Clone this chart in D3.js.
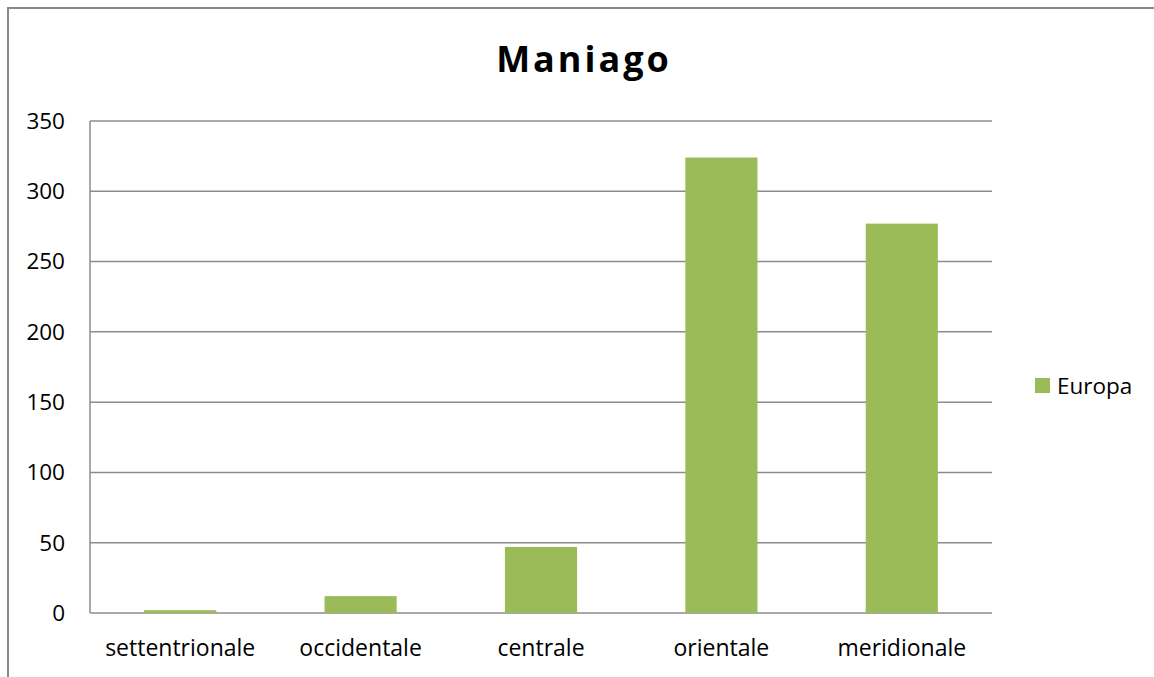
<!DOCTYPE html>
<html>
<head>
<meta charset="utf-8">
<script src="https://cdn.jsdelivr.net/npm/d3@7"></script>
<style>
  body { margin: 0; background: #fff; }
  svg { display: block; font-family: "Open Sans", Lato, sans-serif; }
</style>
</head>
<body>
<div id="viz"></div>
<script>
// Chart data
const categories = ['settentrionale', 'occidentale', 'centrale', 'orientale', 'meridionale']
const europa = [2, 12, 47, 324, 277]
const yTicks = [0, 50, 100, 150, 200, 250, 300, 350]
const seriesName = 'Europa'
const title = 'Maniago'

const W = 1154, H = 677
const plot = { left: 90, right: 992, top: 121, bottom: 613 }

const svg = d3.select('#viz').append('svg')
    .attr('width', W)
    .attr('height', H)

// outer chart frame (only left and top edges are visible in the picture)
svg.append('rect')
    .attr('x', 8).attr('y', 8)
    .attr('width', W + 20).attr('height', H + 20)
    .attr('fill', 'none')
    .attr('stroke', '#888')
    .attr('stroke-width', 2)

var x = d3.scaleBand()
    .domain(categories)
    .range([plot.left, plot.right])
    .paddingInner(0.6)
    .paddingOuter(0.3)

var y = d3.scaleLinear()
    .domain([0, 350])
    .range([plot.bottom, plot.top])

// gridlines
svg.append('g')
    .selectAll('line')
    .data(yTicks)
    .enter()
    .append('line')
    .attr('x1', plot.left)
    .attr('x2', plot.right)
    .attr('y1', d => y(d))
    .attr('y2', d => y(d))
    .attr('stroke', '#8c8c8c')
    .attr('stroke-width', 1.5)

// y axis line
svg.append('line')
    .attr('x1', plot.left).attr('x2', plot.left)
    .attr('y1', plot.top).attr('y2', plot.bottom)
    .attr('stroke', '#8c8c8c')
    .attr('stroke-width', 1.5)

// y tick labels
svg.append('g')
    .selectAll('text')
    .data(yTicks)
    .enter()
    .append('text')
    .attr('x', 65)
    .attr('y', d => y(d))
    .attr('dy', '0.35em')
    .attr('text-anchor', 'end')
    .attr('font-size', 22.5)
    .attr('fill', '#000')
    .text(d => d)

// bars
svg.append('g')
    .selectAll('rect')
    .data(europa)
    .enter()
    .append('rect')
    .attr('x', (d, i) => x(categories[i]))
    .attr('width', x.bandwidth())
    .attr('y', d => y(d))
    .attr('height', d => y(0) - y(d))
    .attr('fill', '#9bbb59')

// x labels
svg.append('g')
    .selectAll('text')
    .data(categories)
    .enter()
    .append('text')
    .attr('x', d => x(d) + x.bandwidth() / 2)
    .attr('y', 656)
    .attr('text-anchor', 'middle')
    .attr('font-size', 23)
    .attr('fill', '#000')
    .text(d => d)

// title
svg.append('text')
    .attr('x', 584)
    .attr('y', 72)
    .attr('text-anchor', 'middle')
    .attr('font-size', 36)
    .attr('font-weight', 'bold')
    .attr('letter-spacing', 3)
    .attr('fill', '#000')
    .text(title)

// legend
svg.append('rect')
    .attr('x', 1035).attr('y', 378)
    .attr('width', 15).attr('height', 15)
    .attr('fill', '#9bbb59')
svg.append('text')
    .attr('x', 1057)
    .attr('y', 386)
    .attr('dy', '0.35em')
    .attr('font-size', 22.5)
    .attr('fill', '#000')
    .text(seriesName)
</script>
</body>
</html>
